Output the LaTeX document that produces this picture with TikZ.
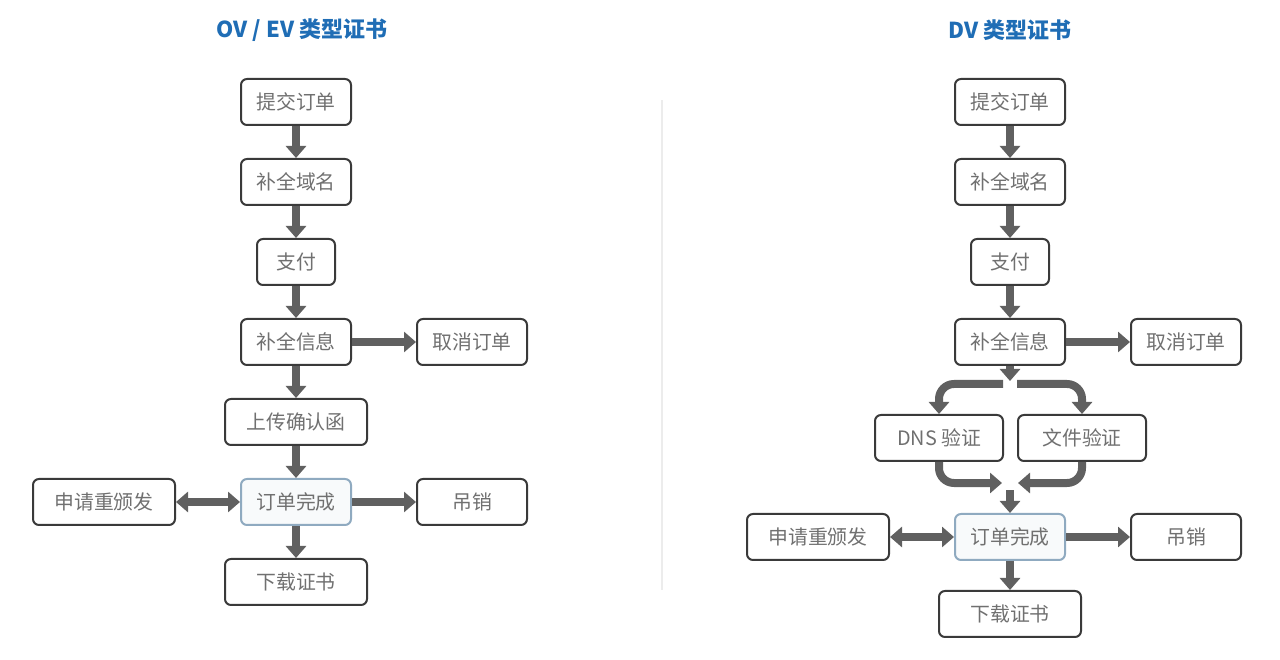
\documentclass[tikz,border=0pt]{standalone}
\usepackage{fontspec}
\usepackage{xcolor}
\usetikzlibrary{arrows.meta, positioning}
\newfontfamily\cjk{Noto Sans CJK SC}
\definecolor{titleblue}{HTML}{1F6DB5}
\definecolor{boxgray}{HTML}{3A3A3A}
\definecolor{textgray}{HTML}{707070}
\definecolor{flowgray}{HTML}{606060}
\definecolor{doneborder}{HTML}{8FAAC0}

\begin{document}
\begin{tikzpicture}[
  stepbox/.style={rectangle, draw=boxgray, fill=white, line width=0.04cm, rounded corners=0.12cm, minimum width=2.2cm, minimum height=0.92cm, align=center, font=\cjk\fontsize{11.3}{13}\selectfont, text=textgray},
  donebox/.style={stepbox, draw=doneborder, fill=doneborder!6},
  title/.style={font=\cjk\bfseries\fontsize{12.5}{14}\selectfont, text=titleblue},
  flow/.style={-{Triangle[width=0.4cm, length=0.24cm]}, line width=0.16cm, draw=flowgray},
  flowboth/.style={{Triangle[width=0.4cm, length=0.24cm]}-{Triangle[width=0.4cm, length=0.24cm]}, line width=0.16cm, draw=flowgray},
  branch/.style={flow, rounded corners=0.3cm}
]
  \useasboundingbox (0,0) rectangle (25.6,-13.2);

  % Titles
  \node[title] (titleL) at (6.04,-0.6) {OV / EV 类型证书};
  \node[title] (titleR) at (20.2,-0.6) {DV 类型证书};

  % Separator
  \draw[gray!15, line width=0.04cm] (13.24,-2.0) -- (13.24,-11.8);

  % Left column: OV / EV
  \node[stepbox] (submitL) at (5.92,-2.04) {提交订单};
  \node[stepbox, below=0.64cm of submitL] (domainL) {补全域名};
  \node[stepbox, minimum width=1.56cm, below=0.64cm of domainL] (payL) {支付};
  \node[stepbox, below=0.64cm of payL] (infoL) {补全信息};
  \node[stepbox, right=1.28cm of infoL] (cancelL) {取消订单};
  \node[stepbox, minimum width=2.84cm, below=0.64cm of infoL] (uploadL) {上传确认函};
  \node[donebox, below=0.64cm of uploadL] (doneL) {订单完成};
  \node[stepbox, minimum width=2.84cm, left=1.28cm of doneL] (reissueL) {申请重颁发};
  \node[stepbox, right=1.28cm of doneL] (revokeL) {吊销};
  \node[stepbox, minimum width=2.84cm, below=0.64cm of doneL] (downloadL) {下载证书};

  \draw[flow] (submitL) -- (domainL);
  \draw[flow] (domainL) -- (payL);
  \draw[flow] (payL) -- (infoL);
  \draw[flow] (infoL) -- (cancelL);
  \draw[flow] (infoL) -- (uploadL);
  \draw[flow] (uploadL) -- (doneL);
  \draw[flowboth] (reissueL) -- (doneL);
  \draw[flow] (doneL) -- (revokeL);
  \draw[flow] (doneL) -- (downloadL);

  % Right column: DV
  \node[stepbox] (submitR) at (20.2,-2.04) {提交订单};
  \node[stepbox, below=0.64cm of submitR] (domainR) {补全域名};
  \node[stepbox, minimum width=1.56cm, below=0.64cm of domainR] (payR) {支付};
  \node[stepbox, below=0.64cm of payR] (infoR) {补全信息};
  \node[stepbox, right=1.28cm of infoR] (cancelR) {取消订单};
  \node[stepbox, minimum width=2.56cm, below=0.96cm of infoR, xshift=-1.42cm] (dnsR) {DNS 验证};
  \node[stepbox, minimum width=2.56cm, below=0.96cm of infoR, xshift=1.44cm] (fileR) {文件验证};
  \node[donebox, below=2.94cm of infoR] (doneR) {订单完成};
  \node[stepbox, minimum width=2.84cm, left=1.28cm of doneR] (reissueR) {申请重颁发};
  \node[stepbox, right=1.28cm of doneR] (revokeR) {吊销};
  \node[stepbox, minimum width=2.84cm, below=0.58cm of doneR] (downloadR) {下载证书};

  % Split and merge points
  \coordinate (splitC) at (20.2,-7.62);
  \coordinate (splitL) at (20.06,-7.68);
  \coordinate (splitRt) at (20.34,-7.68);
  \coordinate (mergeL) at (20.04,-9.66);
  \coordinate (mergeRt) at (20.36,-9.66);
  \coordinate (mergeC) at (20.2,-9.8);

  \draw[flow] (submitR) -- (domainR);
  \draw[flow] (domainR) -- (payR);
  \draw[flow] (payR) -- (infoR);
  \draw[flow] (infoR) -- (cancelR);
  \draw[flow] (infoR) -- (splitC);
  \draw[branch] (splitL) -| (dnsR.north);
  \draw[branch] (splitRt) -| (fileR.north);
  \draw[branch] (dnsR.south) |- (mergeL);
  \draw[branch] (fileR.south) |- (mergeRt);
  \draw[flow] (mergeC) -- (doneR);
  \draw[flowboth] (reissueR) -- (doneR);
  \draw[flow] (doneR) -- (revokeR);
  \draw[flow] (doneR) -- (downloadR);
\end{tikzpicture}
\end{document}
